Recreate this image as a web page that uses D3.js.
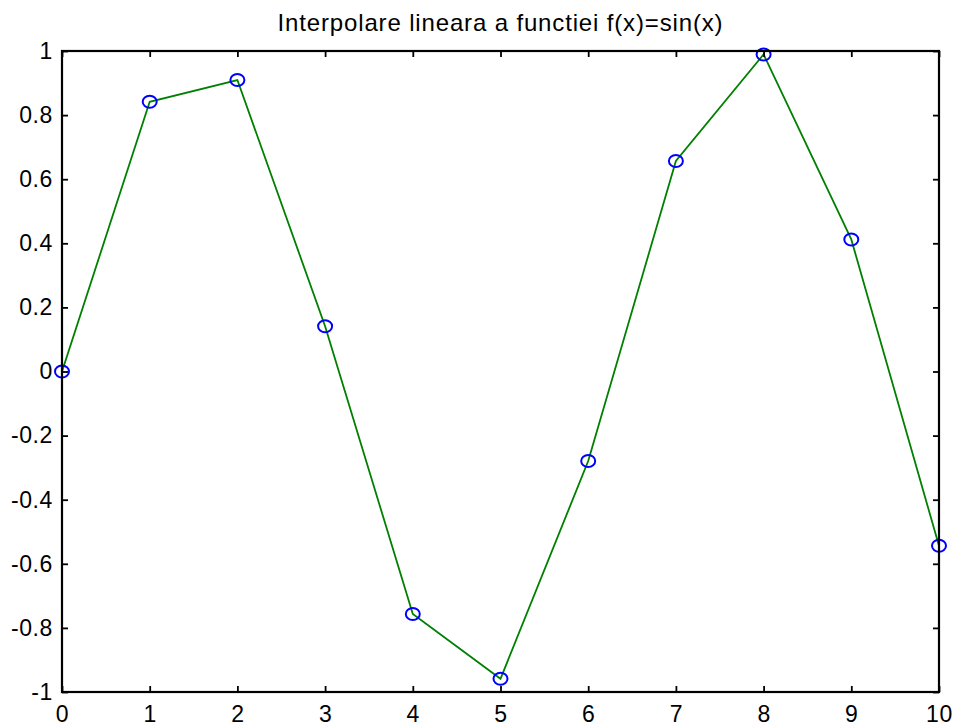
<!DOCTYPE html>
<html><head><meta charset="utf-8">
<script src="https://cdn.jsdelivr.net/npm/d3@7"></script>
<style>body{margin:0;background:#fff}svg{display:block}text{font-family:"Liberation Sans",Arial,sans-serif}</style>
</head><body>
<script>
const xs = [0,1,2,3,4,5,6,7,8,9,10];
const ys = [0,0.8415,0.9093,0.1411,-0.7568,-0.9589,-0.2794,0.6570,0.9894,0.4121,-0.5440];
const xTicks = [0,1,2,3,4,5,6,7,8,9,10];
const yTicks = [-1,-0.8,-0.6,-0.4,-0.2,0,0.2,0.4,0.6,0.8,1];
const title = "Interpolare lineara a functiei f(x)=sin(x)";

const W=957,H=726, L=62,R=939,T=51,B=692;
const svg=d3.select("body").append("svg").attr("width",W).attr("height",H);
const x=d3.scaleLinear().domain([0,10]).range([L,R]);
const y=d3.scaleLinear().domain([-1,1]).range([B,T]);

svg.append("text").attr("x",(L+R)/2).attr("y",31).attr("text-anchor","middle")
  .attr("font-size",24).attr("letter-spacing",0.85).text(title);

const line=d3.line().x((d,i)=>x(xs[i])).y(d=>y(d));
svg.append("path").datum(ys).attr("d",line).attr("fill","none").attr("stroke","#008000").attr("stroke-width",1.8);
svg.selectAll("ellipse.m").data(ys).enter().append("ellipse")
  .attr("cx",(d,i)=>x(xs[i])).attr("cy",d=>y(d)).attr("rx",7).attr("ry",6)
  .attr("fill","none").attr("stroke","#0000ff").attr("stroke-width",2);

svg.append("rect").attr("x",L).attr("y",T).attr("width",R-L).attr("height",B-T)
  .attr("fill","none").attr("stroke","#000").attr("stroke-width",2.2);

const fmt=d=>String(+d.toFixed(1));
const xb=svg.append("g").attr("transform",`translate(0,${B})`)
  .call(d3.axisBottom(x).tickValues(xTicks).tickSize(-6).tickPadding(14).tickFormat(fmt));
const xt=svg.append("g").attr("transform",`translate(0,${T})`)
  .call(d3.axisTop(x).tickValues(xTicks).tickSize(-6).tickFormat(""));
const yl=svg.append("g").attr("transform",`translate(${L},0)`)
  .call(d3.axisLeft(y).tickValues(yTicks).tickSize(-6).tickPadding(9).tickFormat(fmt));
const yr=svg.append("g").attr("transform",`translate(${R},0)`)
  .call(d3.axisRight(y).tickValues(yTicks).tickSize(-6).tickFormat(""));
[xb,xt,yl,yr].forEach(g=>{
  g.select(".domain").remove();
  g.selectAll("line").attr("stroke","#000").attr("stroke-width",1.8);
  g.selectAll("text").attr("font-size",23).attr("letter-spacing",0.6).attr("fill","#000").attr("font-family",'"Liberation Sans",Arial,sans-serif');
});
xb.selectAll("text").attr("dy","0.71em");
</script>
</body></html>
